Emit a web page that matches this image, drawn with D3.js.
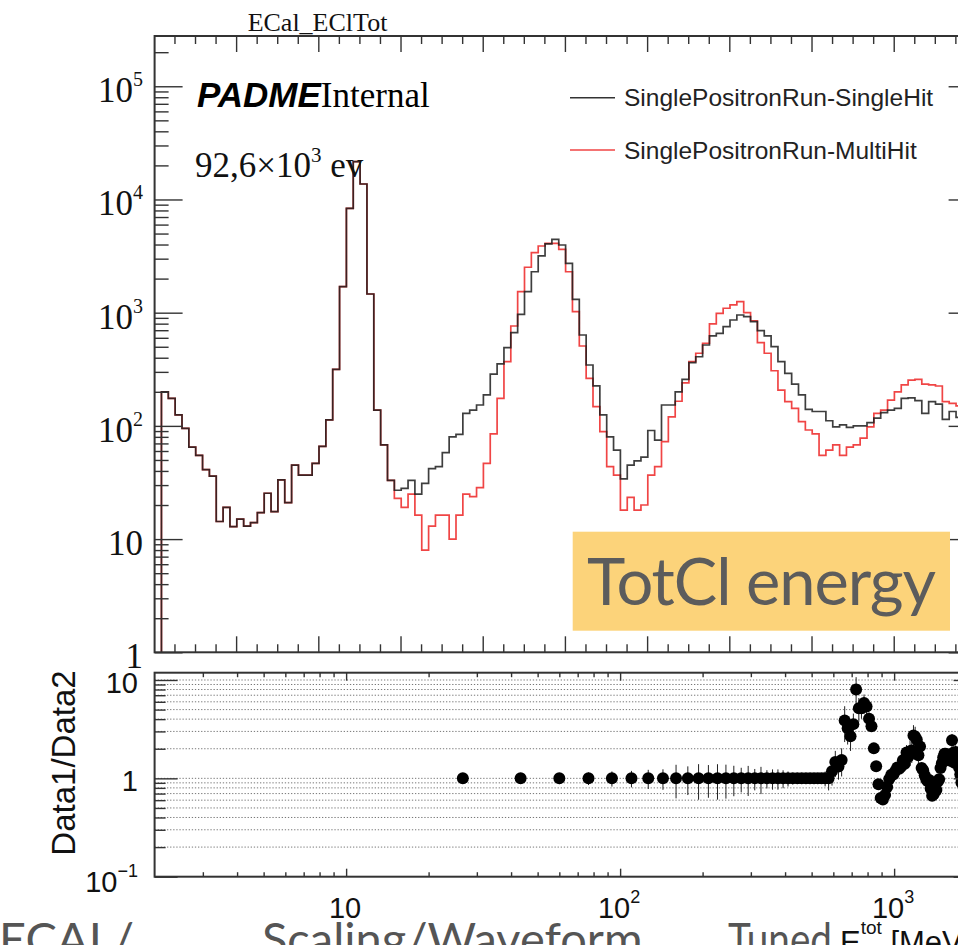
<!DOCTYPE html>
<html><head><meta charset="utf-8">
<script src="https://cdn.jsdelivr.net/npm/d3@7"></script>
<style>body{margin:0;background:#fff;overflow:hidden}svg{display:block}</style>
</head><body>
<svg id="c" width="958" height="945"></svg>
<script>
// ---------------- data ----------------
const histLow = 1.667, histHigh = 2001.667;   // 120 bins
const singleHit = [0,200,175,125,95,65,55,41,36,14.3,19.1,12.9,15,13,14,17.1,25.4,17.5,33.3,21,45,36.8,36.8,46.7,66,113,316,1698,8360,21600,13700,1462,138,68,33,27,28,33,25,31,42,43.6,58,80,84,129,138,153,188,287,353,491,666,968,1534,2300,3170,4045,4450,3960,2730,1313,635,345,226,125,80,61,34,45,49,53,91,75,153,153,200,258,362,408,518,623,657,752,862,954,922,832,693,623,501,369,291,234,188,140,134,134,111,98,102,97,100,100,107,117,131,138,143,175,177,167,129,164,156,114,134,119,115,110];
const multiHit = [0,200,175,125,95,65,55,41,36,14.3,19.1,12.9,15,13,14,17.1,25.4,17.5,33.3,21,45,36.8,36.8,46.7,66,113,316,1698,8360,21600,13700,1462,138,68,33,22.9,19.1,25,16.3,8.0,13,16.3,16.3,10,16.3,25,23.7,28.5,46.7,85,175,369,763,1534,2520,3390,3880,4100,4100,3630,2300,1020,508,263,148,89,43.6,36.8,18,23.4,18,20,36.8,43.6,72.5,120,165,240,369,438,537,795,988,1094,1170,1251,1000,849,543,438,307,207,164,143,109,92,85,55,61,68,55,65,68,78,98,129,138,169,200,230,254,258,234,230,225,164,158,150,140,135];
const seriesNames = ["SinglePositronRun-SingleHit", "SinglePositronRun-MultiHit"];
const upperYMajor = [1, 10, 100, 1000, 10000, 100000];
const upperYLabels = [["1",""],["10",""],["10","2"],["10","3"],["10","4"],["10","5"]];
const ratioXMajor = [10, 100, 1000];
const ratioXLabels = [["10",""],["10","2"],["10","3"]];
const ratioYMajor = [0.1, 1, 10];
const ratioYLabels = [["10","\u22121"],["1",""],["10",""]];

// ---------------- layout ----------------
const svg = d3.select('#c');
const U = {l:154.6, r:976.6, t:36, b:652.3};
const R = {l:154.6, r:976.6, t:672.7, b:876.7};
const serif = "'Liberation Serif','Times New Roman',serif";
const sans = "'Liberation Sans',Arial,Helvetica,sans-serif";
const axisCol = '#333';

const x = d3.scaleLinear().domain([histLow, histHigh]).range([U.l, U.r]);
const y = d3.scaleLog().domain([1, 2.78e5]).range([U.b, U.t]);
const xr = d3.scaleLog().domain([2, 2000]).range([R.l, R.r]);
const yr = d3.scaleLog().domain([0.1, 11.86]).range([R.b, R.t]);

const nb = singleHit.length, bw = (histHigh - histLow) / nb;

svg.append('defs').call(d => {
  d.append('clipPath').attr('id','cu').append('rect').attr('x',U.l).attr('y',U.t).attr('width',U.r-U.l).attr('height',U.b-U.t);
  d.append('clipPath').attr('id','cr').append('rect').attr('x',R.l).attr('y',R.t).attr('width',R.r-R.l).attr('height',R.b-R.t);
});

function ticks(axis, tx, ty, vals, size) {
  svg.append('g').attr('transform', `translate(${tx},${ty})`)
    .call(axis.tickValues(vals).tickSize(size).tickFormat(''))
    .call(g => { g.select('.domain').remove(); g.selectAll('text').remove(); })
    .selectAll('line').attr('stroke', axisCol).attr('stroke-width', 1.4);
}

// ---------- ratio grid ----------
const ratioGrid = [];
[0.1, 1].forEach(d => { for (let k = 2; k <= 9; k++) ratioGrid.push(d*k); });
ratioGrid.push(1, 10);
svg.append('g').selectAll('line').data(ratioGrid).join('line')
  .attr('x1', R.l).attr('x2', R.r).attr('y1', d => yr(d)).attr('y2', d => yr(d))
  .attr('stroke', '#777').attr('stroke-width', 1).attr('stroke-dasharray', '1.3,1.8');

// ---------- histograms ----------
function histPath(vals) {
  const pts = vals.map((v, i) => [histLow + i*bw, Math.max(v, 0.8)]);
  pts.push([histHigh, Math.max(vals[nb-1], 0.8)]);
  return d3.line().x(d => x(d[0])).y(d => y(d[1])).curve(d3.curveStepAfter)(pts);
}
const gh = svg.append('g').attr('clip-path', 'url(#cu)');
gh.append('path').attr('d', histPath(multiHit)).attr('fill','none').attr('stroke','#f04545').attr('stroke-width',1.7);
gh.append('path').attr('d', histPath(singleHit)).attr('fill','none').attr('stroke','#1c1c1c').attr('stroke-opacity',0.85).attr('stroke-width',1.7);

// ---------- upper frame & ticks ----------
svg.append('rect').attr('x',U.l).attr('y',U.t).attr('width',U.r-U.l).attr('height',U.b-U.t)
  .attr('fill','none').attr('stroke',axisCol).attr('stroke-width',2);
const uxMaj = d3.range(200, 2001, 200), uxMin = d3.range(50, 2001, 50).filter(v => v % 200 !== 0);
ticks(d3.axisBottom(x), 0, U.b, uxMaj, -16);
ticks(d3.axisBottom(x), 0, U.b, uxMin, -8);
ticks(d3.axisTop(x), 0, U.t, uxMaj, -16);
ticks(d3.axisTop(x), 0, U.t, uxMin, -8);
const uyMin = [];
upperYMajor.forEach(d => { for (let k = 2; k <= 9; k++) if (d*k < 2.78e5) uyMin.push(d*k); });
ticks(d3.axisLeft(y), U.l, 0, upperYMajor, -28);
ticks(d3.axisLeft(y), U.l, 0, uyMin, -14);
ticks(d3.axisRight(y), U.r, 0, upperYMajor, -28);
ticks(d3.axisRight(y), U.r, 0, uyMin, -14);

// upper y labels
upperYMajor.forEach((v, i) => {
  const t = svg.append('text').attr('x', 143).attr('y', y(v) + 16).attr('text-anchor','end')
    .attr('font-family', serif).attr('font-size', 35).attr('fill','#111');
  t.append('tspan').text(upperYLabels[i][0]);
  if (upperYLabels[i][1]) t.append('tspan').attr('dy', -16).attr('font-size', 20).text(upperYLabels[i][1]);
});

// ---------- ratio panel ----------
const ratioPts = [];
singleHit.forEach((b, i) => {
  const r = multiHit[i];
  if (b > 0 && r > 0) {
    const q = b / r;
    ratioPts.push({x: histLow + (i + 0.5)*bw, v: q, e: q*Math.sqrt(1/b + 1/r)});
  }
});
const gr = svg.append('g').attr('clip-path','url(#cr)');
gr.selectAll('line.eb').data(ratioPts).join('line').attr('class','eb')
  .attr('x1', d => xr(d.x)).attr('x2', d => xr(d.x))
  .attr('y1', d => yr(d.v + d.e)).attr('y2', d => yr(Math.max(d.v - d.e, 0.09)))
  .attr('stroke','#222').attr('stroke-width',1);
gr.selectAll('circle').data(ratioPts).join('circle')
  .attr('cx', d => xr(d.x)).attr('cy', d => yr(d.v)).attr('r', 6).attr('fill','#000');

svg.append('rect').attr('x',R.l).attr('y',R.t).attr('width',R.r-R.l).attr('height',R.b-R.t)
  .attr('fill','none').attr('stroke',axisCol).attr('stroke-width',2);
const rxMin = [];
[1, 10, 100, 1000].forEach(d => { for (let k = 2; k <= 9; k++) if (d*k > 2 && d*k <= 2000) rxMin.push(d*k); });
ticks(d3.axisBottom(xr), 0, R.b, ratioXMajor, -8);
ticks(d3.axisBottom(xr), 0, R.b, rxMin, -4.5);
ticks(d3.axisTop(xr), 0, R.t, ratioXMajor, -8);
ticks(d3.axisTop(xr), 0, R.t, rxMin, -4.5);
const ryMin = [];
[0.1, 1].forEach(d => { for (let k = 2; k <= 9; k++) ryMin.push(d*k); });
ticks(d3.axisLeft(yr), R.l, 0, ratioYMajor, -23);
ticks(d3.axisLeft(yr), R.l, 0, ryMin, -11);
ticks(d3.axisRight(yr), R.r, 0, ratioYMajor, -23);
ticks(d3.axisRight(yr), R.r, 0, ryMin, -11);

ratioYMajor.forEach((v, i) => {
  const lab = ratioYLabels[i];
  const t = svg.append('text').attr('x', 138).attr('y', yr(v) + (lab[1] ? 15 : 13)).attr('text-anchor','end')
    .attr('font-family', sans).attr('font-size', 29).attr('fill','#111');
  t.append('tspan').text(lab[0]);
  if (lab[1]) t.append('tspan').attr('dy', -15).attr('font-size', 18).text(lab[1]);
});
ratioXMajor.forEach((v, i) => {
  const lab = ratioXLabels[i];
  const t = svg.append('text').attr('x', xr(v) - 1).attr('y', 918).attr('text-anchor','middle')
    .attr('font-family', sans).attr('font-size', 29).attr('fill','#111');
  t.append('tspan').text(lab[0]);
  if (lab[1]) t.append('tspan').attr('dy', -15).attr('font-size', 18).text(lab[1]);
});
svg.append('text').attr('transform', 'translate(75,763) rotate(-90)').attr('text-anchor','middle')
  .attr('font-family', sans).attr('font-size', 33).attr('fill','#111').text('Data1/Data2');

// ---------- texts ----------
svg.append('text').attr('x', 317.5).attr('y', 31).attr('text-anchor','middle')
  .attr('font-family', serif).attr('font-size', 26).attr('fill','#111').text('ECal_EClTot');
const pt = svg.append('text').attr('x', 197).attr('y', 107).attr('font-size', 35).attr('fill','#000');
pt.append('tspan').attr('font-family', sans).attr('font-weight','bold').attr('font-style','italic').text('PADME');
pt.append('tspan').attr('font-family', serif).text('Internal');
const et = svg.append('text').attr('x', 195).attr('y', 177).attr('font-family', serif).attr('font-size', 35).attr('fill','#111');
et.append('tspan').text('92,6\u00d710');
et.append('tspan').attr('dy', -15).attr('font-size', 21).text('3');
et.append('tspan').attr('dy', 15).text(' ev');

// legend
const legCols = ['#333', '#f04545'];
seriesNames.forEach((n, i) => {
  const ly = 97.7 + i*52.3;
  svg.append('line').attr('x1', 570).attr('x2', 615).attr('y1', ly).attr('y2', ly)
    .attr('stroke', legCols[i]).attr('stroke-width', 1.6);
  svg.append('text').attr('x', 624).attr('y', ly + 8.5).attr('font-family', sans).attr('font-size', 24.5)
    .attr('fill','#222').text(n);
});

// highlight box
svg.append('rect').attr('x', 572.7).attr('y', 531.7).attr('width', 377.3).attr('height', 99).attr('fill', '#fcd37a');
svg.append('text').attr('x', 587).attr('y', 605).attr('font-family', "Lato,'Open Sans',sans-serif")
  .attr('font-size', 65).attr('textLength', 349).attr('lengthAdjust', 'spacing')
  .attr('fill', '#5c5c5c').text('TotCl energy');

// axis title (partly cut at bottom)
const xt = svg.append('text').attr('x', 840).attr('y', 953).attr('font-family', sans).attr('font-size', 31).attr('fill','#111');
xt.append('tspan').text('E');
xt.append('tspan').attr('dy', -19).attr('font-size', 19).text('tot');
xt.append('tspan').attr('dy', 19).text(' [MeV]');

// slide caption (cut at bottom)
const capFont = "Lato,'Open Sans',sans-serif";
[["ECAL/", -1, null], ["Scaling/Waveform", 262, null], ["Tuned", 728, 104]].forEach(c => {
  const t = svg.append('text').attr('x', c[1]).attr('y', 956).attr('font-family', capFont).attr('font-size', 47)
    .attr('fill', '#555').text(c[0]);
  if (c[2]) t.attr('textLength', c[2]).attr('lengthAdjust', 'spacingAndGlyphs');
});
</script>
</body></html>
